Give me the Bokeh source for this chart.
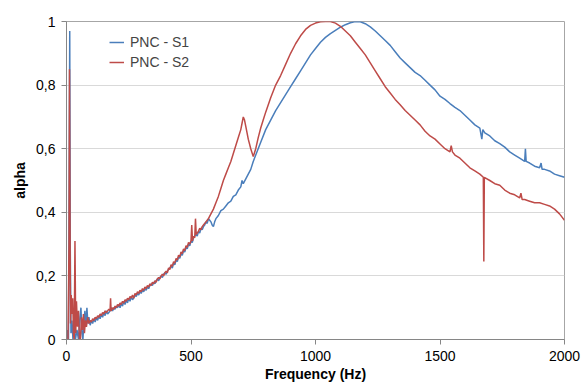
from bokeh.plotting import figure
from bokeh.models import Range1d, FixedTicker, Legend, LegendItem
from bokeh.embed import file_html
from bokeh.resources import INLINE

# ---- data ----
s1_freq = [0, 4, 8, 11, 13, 15, 18, 22, 26, 30, 36, 42, 48, 54, 58, 62, 66, 70, 74, 78, 82, 86, 90, 95,
           100, 105, 110, 115, 120, 125, 130, 135, 140, 145, 150, 155, 160, 165, 170, 175, 180, 185, 190, 195,
           200, 205, 210, 215, 220, 225, 230, 235, 240, 245, 250, 255, 260, 265, 270, 275, 280, 285, 290, 295,
           300, 305, 310, 315, 320, 325, 330, 335, 340, 345, 350, 355, 360, 365, 370, 375, 380, 385, 390, 395,
           400, 405, 410, 415, 420, 425, 430, 435, 440, 445, 450, 455, 460, 465, 470, 475, 480, 485, 490, 495,
           500, 505, 510, 515, 520, 525, 530, 535, 540, 545, 550, 555, 560, 565, 570, 575, 580, 585, 590, 595,
           600, 610, 620, 630, 640, 650, 660, 670, 680, 690, 700, 705, 710, 720, 730, 740, 750, 760, 780, 800,
           820, 840, 860, 880, 900, 920, 940, 960, 980, 1000, 1020, 1040, 1060, 1080, 1100, 1120, 1140, 1160,
           1180, 1200, 1220, 1240, 1260, 1280, 1300, 1320, 1340, 1360, 1380, 1400, 1420, 1440, 1460, 1480,
           1500, 1520, 1540, 1560, 1580, 1600, 1620, 1640, 1660, 1668, 1672, 1680, 1700, 1720, 1740, 1760,
           1780, 1800, 1820, 1840, 1843, 1846, 1860, 1880, 1900, 1906, 1910, 1920, 1940, 1960, 1980, 2000]
s1_alpha = [0.0, 0.03, 0.0, 0.5, 0.97, 0.3, 0.02, 0.06, 0.0, 0.04, 0.0, 0.03, 0.0, 0.07, 0.10, 0.02, 0.0, 0.06, 0.09, 0.04, 0.10, 0.05, 0.07, 0.045,
            0.06, 0.05, 0.065, 0.055, 0.07, 0.06, 0.075, 0.065, 0.08, 0.07, 0.085, 0.075, 0.09, 0.08, 0.085, 0.09, 0.10, 0.09, 0.10, 0.095,
            0.105, 0.10, 0.11, 0.10, 0.115, 0.105, 0.12, 0.11, 0.125, 0.115, 0.13, 0.12, 0.135, 0.125, 0.13, 0.14, 0.135, 0.145, 0.14, 0.15,
            0.145, 0.155, 0.15, 0.16, 0.155, 0.165, 0.16, 0.17, 0.175, 0.17, 0.18, 0.175, 0.185, 0.19, 0.185, 0.195, 0.20, 0.195, 0.205, 0.21,
            0.205, 0.215, 0.22, 0.225, 0.23, 0.225, 0.24, 0.235, 0.25, 0.245, 0.26, 0.255, 0.27, 0.265, 0.28, 0.275, 0.29, 0.285, 0.30, 0.295,
            0.31, 0.305, 0.32, 0.325, 0.33, 0.325, 0.34, 0.335, 0.35, 0.345, 0.355, 0.36, 0.37, 0.365, 0.38, 0.375, 0.37, 0.36, 0.355, 0.37,
            0.38, 0.39, 0.405, 0.41, 0.42, 0.43, 0.435, 0.45, 0.455, 0.47, 0.48, 0.50, 0.49, 0.505, 0.52, 0.535, 0.56, 0.58, 0.62, 0.66,
            0.69, 0.72, 0.745, 0.77, 0.795, 0.82, 0.845, 0.87, 0.895, 0.915, 0.935, 0.95, 0.962, 0.972, 0.982, 0.99, 0.996, 1.0,
            0.999, 0.993, 0.983, 0.97, 0.955, 0.94, 0.925, 0.905, 0.885, 0.87, 0.855, 0.84, 0.83, 0.815, 0.80, 0.785,
            0.765, 0.755, 0.742, 0.73, 0.72, 0.705, 0.69, 0.675, 0.665, 0.63, 0.66, 0.65, 0.64, 0.625, 0.616, 0.605,
            0.59, 0.58, 0.57, 0.56, 0.60, 0.56, 0.555, 0.545, 0.54, 0.555, 0.535, 0.535, 0.53, 0.52, 0.515, 0.51]

s2_freq = [0, 6, 10, 12, 14, 16, 19, 22, 25, 28, 31, 34, 37, 40, 44, 48, 52, 56, 60, 64, 68, 72, 76, 80, 85, 90, 95,
           100, 105, 110, 115, 120, 125, 130, 135, 140, 145, 150, 155, 160, 165, 170, 175, 177, 179, 185, 190, 195,
           200, 205, 210, 215, 220, 225, 230, 235, 240, 245, 250, 255, 260, 265, 270, 275, 280, 285, 290, 295,
           300, 305, 310, 315, 320, 325, 330, 335, 340, 345, 350, 355, 360, 365, 370, 375, 380, 385, 390, 395,
           400, 405, 410, 415, 420, 425, 430, 435, 440, 445, 450, 455, 460, 465, 470, 475, 480, 485, 490, 495,
           500, 503, 506, 510, 515, 518, 521, 525, 530, 535, 540, 545, 550, 555, 560, 565, 570, 580, 590,
           600, 610, 620, 630, 640, 650, 660, 670, 680, 690, 700, 705, 710, 715, 720, 730, 740, 750, 760, 770,
           780, 790, 800, 820, 840, 860, 880, 900, 920, 940, 960, 980, 1000, 1020, 1040, 1060, 1080, 1100,
           1120, 1140, 1160, 1180, 1200, 1220, 1240, 1260, 1280, 1300, 1320, 1340, 1360, 1380, 1400, 1420,
           1440, 1460, 1480, 1500, 1520, 1540, 1545, 1550, 1560, 1580, 1600, 1620, 1640, 1660, 1674, 1676,
           1678, 1700, 1720, 1740, 1760, 1780, 1800, 1820, 1825, 1830, 1840, 1860, 1880, 1900, 1920, 1940,
           1960, 1980, 2000]
s2_alpha = [0.0, 0.0, 0.3, 0.85, 0.4, 0.05, 0.14, 0.08, 0.13, 0.02, 0.0, 0.31, 0.02, 0.12, 0.04, 0.09, 0.0, 0.0, 0.07, 0.03, 0.08, 0.02, 0.06, 0.04, 0.07, 0.05, 0.06,
            0.055, 0.065, 0.06, 0.07, 0.065, 0.075, 0.07, 0.08, 0.075, 0.085, 0.08, 0.09, 0.085, 0.09, 0.095, 0.09, 0.13, 0.09, 0.10, 0.095, 0.105,
            0.10, 0.11, 0.105, 0.115, 0.11, 0.12, 0.115, 0.125, 0.12, 0.13, 0.125, 0.135, 0.13, 0.14, 0.13, 0.145, 0.14, 0.15, 0.145, 0.155,
            0.15, 0.16, 0.155, 0.165, 0.16, 0.17, 0.165, 0.175, 0.17, 0.18, 0.175, 0.185, 0.18, 0.19, 0.195, 0.19, 0.20, 0.205, 0.20, 0.21,
            0.215, 0.21, 0.225, 0.22, 0.235, 0.23, 0.245, 0.24, 0.255, 0.25, 0.265, 0.26, 0.275, 0.27, 0.285, 0.28, 0.295, 0.29, 0.305, 0.30,
            0.31, 0.36, 0.31, 0.325, 0.32, 0.38, 0.33, 0.335, 0.34, 0.35, 0.345, 0.355, 0.36, 0.365, 0.37, 0.375, 0.38, 0.395, 0.41,
            0.43, 0.45, 0.475, 0.50, 0.52, 0.54, 0.56, 0.585, 0.61, 0.635, 0.66, 0.68, 0.70, 0.69, 0.67, 0.63, 0.60, 0.575, 0.60, 0.635,
            0.665, 0.69, 0.715, 0.76, 0.80, 0.83, 0.865, 0.90, 0.93, 0.955, 0.975, 0.988, 0.995, 0.999, 1.0, 1.0, 0.995, 0.985,
            0.97, 0.955, 0.935, 0.915, 0.895, 0.87, 0.845, 0.82, 0.795, 0.775, 0.755, 0.738, 0.72, 0.705, 0.69, 0.675,
            0.655, 0.64, 0.63, 0.615, 0.60, 0.59, 0.61, 0.59, 0.58, 0.57, 0.555, 0.54, 0.53, 0.52, 0.51, 0.245,
            0.51, 0.50, 0.49, 0.485, 0.47, 0.46, 0.455, 0.445, 0.46, 0.44, 0.44, 0.435, 0.43, 0.43, 0.425, 0.42,
            0.41, 0.395, 0.375]

x_ticks = [0, 500, 1000, 1500, 2000]
y_ticks = [0, 0.2, 0.4, 0.6, 0.8, 1.0]
y_tick_labels = ["0", "0,2", "0,4", "0,6", "0,8", "1"]
series_names = ["PNC - S1", "PNC - S2"]
series_colors = ["#4A7EBB", "#BE4B48"]

FONT = "Liberation Sans"

p = figure(width=582, height=385, output_backend="svg", toolbar_location=None,
           x_range=Range1d(0, 2000), y_range=Range1d(0, 1),
           min_border_left=66, min_border_right=18, min_border_top=21, min_border_bottom=46)

r1 = p.line(s1_freq, s1_alpha, line_color=series_colors[0], line_width=1.5)
r2 = p.line(s2_freq, s2_alpha, line_color=series_colors[1], line_width=1.5)

p.xaxis.ticker = FixedTicker(ticks=x_ticks)
p.yaxis.ticker = FixedTicker(ticks=y_ticks)
p.yaxis.major_label_overrides = {t: l for t, l in zip(y_ticks, y_tick_labels)}
p.yaxis.major_label_overrides.update({1: "1", 0: "0"})

for ax in (p.xaxis, p.yaxis):
    ax.axis_line_color = "#868686"
    ax.major_tick_line_color = "#868686"
    ax.major_tick_out = 5
    ax.major_tick_in = 0
    ax.minor_tick_line_color = None
    ax.major_label_text_font = FONT
    ax.major_label_text_font_size = "14px"
    ax.major_label_text_color = "#000000"
    ax.axis_label_text_font = FONT
    ax.axis_label_text_font_size = "14px"
    ax.axis_label_text_font_style = "bold"
    ax.axis_label_text_color = "#000000"

p.xaxis.axis_label = "Frequency (Hz)"
p.yaxis.axis_label = "alpha"
p.xaxis.major_label_standoff = 6
p.xaxis.axis_label_standoff = 2
p.yaxis.major_label_standoff = 6
p.yaxis.axis_label_standoff = 5

p.xgrid.grid_line_color = None
p.ygrid.grid_line_color = "#D9D9D9"
p.ygrid.grid_line_width = 1

p.outline_line_color = "#A6A6A6"
p.outline_line_width = 1
p.background_fill_color = "white"
p.border_fill_color = "white"

legend = Legend(items=[LegendItem(label=series_names[0], renderers=[r1]),
                       LegendItem(label=series_names[1], renderers=[r2])],
                location=(43, 267), margin=0, padding=0, spacing=0,
                glyph_width=15, glyph_height=20, label_height=20, label_standoff=6,
                label_text_font=FONT, label_text_font_size="14px",
                border_line_color=None, background_fill_alpha=0)
p.add_layout(legend)

open("out.html", "w").write(file_html(p, INLINE))
